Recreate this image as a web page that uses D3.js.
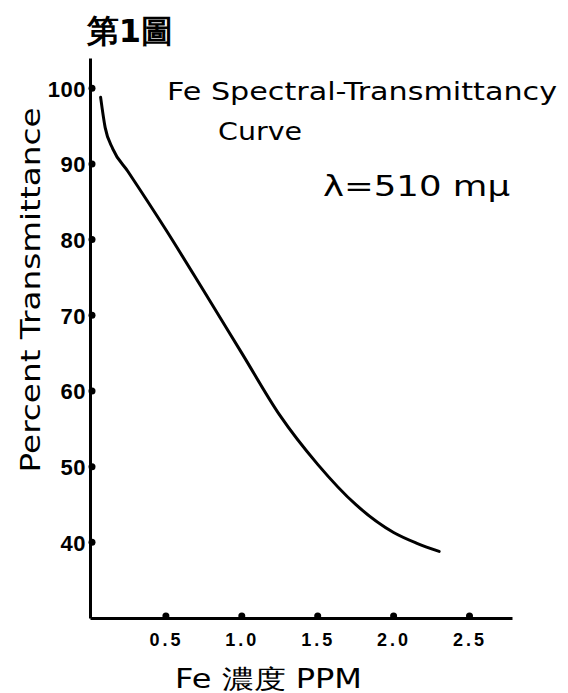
<!DOCTYPE html>
<html lang="ja">
<head>
<meta charset="UTF-8">
<title>第1圖 Fe Spectral-Transmittancy Curve</title>
<script src="https://d3js.org/d3.v7.min.js"></script>
<style>
    body { margin: 0; background: #fff; }
    svg { display: block; }
    .tick text { font-family: "Liberation Sans", sans-serif; font-weight: bold; fill: #000; }
    .hand { font-family: "DejaVu Sans", sans-serif; fill: #000; }
</style>
</head>
<body>
<svg width="568" height="693"></svg>
<script>
    // data
    const fePpm = [0.07, 0.10, 0.15, 0.25, 0.50, 0.75, 1.00, 1.25, 1.50, 1.75, 2.00, 2.15, 2.30];
    const transmittance = [98.8, 94.8, 92.0, 89.0, 81.3, 73.2, 65.0, 56.8, 50.3, 45.0, 41.3, 39.9, 38.8];
    const xTicks = [0.5, 1.0, 1.5, 2.0, 2.5];
    const yTicks = [40, 50, 60, 70, 80, 90, 100];

    const svg = d3.select("svg");

    const x = d3.scaleLinear().domain([0, 2.78]).range([90, 512]);
    const y = d3.scaleLinear().domain([30, 104]).range([618, 58]);

    // axes
    const xAxis = svg.append("g")
        .attr("transform", `translate(0,${y(30)})`)
        .call(d3.axisBottom(x).tickValues(xTicks).tickSize(0).tickSizeOuter(0).tickPadding(15)
            .tickFormat(d3.format(".1f")));
    xAxis.selectAll("text").attr("font-size", 18).attr("letter-spacing", 3);

    const yAxis = svg.append("g")
        .attr("transform", `translate(${x(0)},0)`)
        .call(d3.axisLeft(y).tickValues(yTicks).tickSize(0).tickSizeOuter(0).tickPadding(4));
    yAxis.selectAll("text").attr("font-size", 22).attr("letter-spacing", 0.5).attr("dy", "0.36em");

    svg.selectAll(".domain").attr("stroke", "#000").attr("stroke-width", 3);

    // tick dots
    svg.append("g").selectAll("circle")
        .data(xTicks)
        .join("circle")
        .attr("cx", d => x(d))
        .attr("cy", y(30) - 2)
        .attr("r", 3.5);

    svg.append("g").selectAll("circle")
        .data(yTicks)
        .join("circle")
        .attr("cx", x(0) + 2)
        .attr("cy", d => y(d))
        .attr("r", 3.5);

    // curve
    const line = d3.line()
        .x((d, i) => x(fePpm[i]))
        .y(d => y(d))
        .curve(d3.curveMonotoneX);

    svg.append("path")
        .datum(transmittance)
        .attr("fill", "none")
        .attr("stroke", "#000")
        .attr("stroke-width", 3)
        .attr("stroke-linecap", "round")
        .attr("d", line);

    // texts
    svg.append("text")
        .attr("class", "hand")
        .attr("x", 130).attr("y", 42)
        .attr("text-anchor", "middle")
        .attr("font-family", "Noto Sans CJK JP")
        .attr("font-weight", "bold")
        .attr("font-size", 32)
        .text("第1圖");

    svg.append("text")
        .attr("class", "hand")
        .attr("x", 167).attr("y", 100)
        .attr("font-size", 24)
        .attr("textLength", 390)
        .attr("lengthAdjust", "spacingAndGlyphs")
        .text("Fe Spectral-Transmittancy");

    svg.append("text")
        .attr("class", "hand")
        .attr("x", 218).attr("y", 140)
        .attr("font-size", 24)
        .attr("textLength", 84)
        .attr("lengthAdjust", "spacingAndGlyphs")
        .text("Curve");

    svg.append("text")
        .attr("class", "hand")
        .attr("x", 323).attr("y", 196)
        .attr("font-size", 28)
        .attr("textLength", 187)
        .attr("lengthAdjust", "spacingAndGlyphs")
        .text("λ=510 mμ");

    svg.append("text")
        .attr("class", "hand")
        .attr("transform", "translate(40,290) rotate(-90)")
        .attr("text-anchor", "middle")
        .attr("font-size", 26)
        .attr("textLength", 365)
        .attr("lengthAdjust", "spacingAndGlyphs")
        .text("Percent Transmittance");

    svg.append("text")
        .attr("class", "hand")
        .attr("x", 175).attr("y", 688)
        .attr("font-size", 26)
        .attr("textLength", 187)
        .attr("lengthAdjust", "spacingAndGlyphs")
        .text("Fe 濃度 PPM");
</script>
</body>
</html>
